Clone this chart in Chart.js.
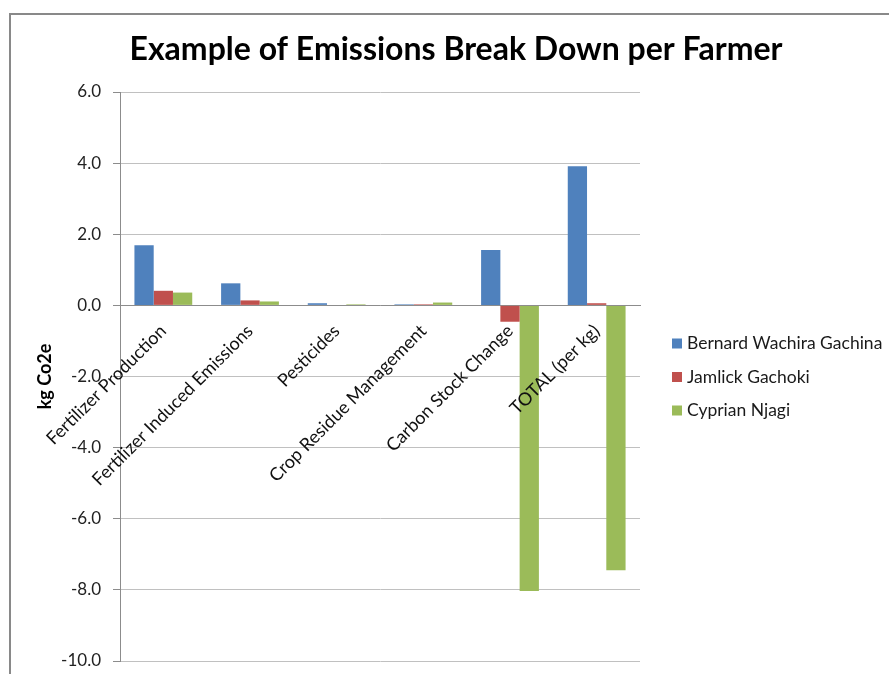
<!DOCTYPE html>
<html>
<head>
<meta charset="utf-8">
<title>Example of Emissions Break Down per Farmer</title>
<script src="https://cdn.jsdelivr.net/npm/chart.js@4/dist/chart.umd.min.js"></script>
<style>
  html, body { margin: 0; padding: 0; background: #ffffff; }
  #wrap { position: relative; width: 889px; height: 674px; }
</style>
</head>
<body>
<div id="wrap"><canvas id="chart" width="889" height="674"></canvas></div>
<script>
// Emission sources per farmer (kg CO2e)
const chartTitle = 'Example of Emissions Break Down per Farmer';
const categories = [
  'Fertilizer Production',
  'Fertilizer Induced Emissions',
  'Pesticides',
  'Crop Residue Management',
  'Carbon Stock Change',
  'TOTAL (per kg)'
];
const bernardWachiraGachina = [1.69, 0.62, 0.06, 0.03, 1.56, 3.91];
const jamlickGachoki        = [0.41, 0.14, 0.00, 0.03, -0.46, 0.06];
const cyprianNjagi          = [0.36, 0.11, 0.03, 0.08, -8.03, -7.45];
const yTicks = [-10, -8, -6, -4, -2, 0, 2, 4, 6];

const FONT = 'Lato, "Liberation Sans", sans-serif';

// Frame, centred title and right-hand legend drawn around the plot area
const decorations = {
  id: 'decorations',
  beforeDraw(chart) {
    const ctx = chart.ctx;
    ctx.save();
    ctx.strokeStyle = '#898989';
    ctx.lineWidth = 2;
    ctx.beginPath();
    ctx.moveTo(10, chart.height);
    ctx.lineTo(10, 14);
    ctx.lineTo(chart.width, 14);
    ctx.stroke();
    ctx.restore();
  },
  afterDraw(chart) {
    const ctx = chart.ctx;
    ctx.save();
    ctx.fillStyle = '#000000';
    ctx.font = 'bold 32px ' + FONT;
    ctx.textAlign = 'center';
    ctx.textBaseline = 'middle';
    ctx.fillText(chartTitle, 456, 50);

    const x0 = chart.chartArea.right + 32;
    const yMid = 377;
    const step = 33.5;
    const sets = chart.data.datasets;
    ctx.font = '17.5px ' + FONT;
    ctx.textAlign = 'left';
    sets.forEach((ds, i) => {
      const y = yMid + (i - (sets.length - 1) / 2) * step;
      ctx.fillStyle = ds.backgroundColor;
      ctx.fillRect(x0, y - 5, 10, 10);
      ctx.fillStyle = '#1a1a1a';
      ctx.fillText(ds.label, x0 + 15, y);
    });
    ctx.restore();
  }
};

new Chart(document.getElementById('chart'), {
  type: 'bar',
  data: {
    labels: categories,
    datasets: [
      { label: 'Bernard Wachira Gachina', data: bernardWachiraGachina, backgroundColor: '#4F81BD' },
      { label: 'Jamlick Gachoki',         data: jamlickGachoki,        backgroundColor: '#C0504D' },
      { label: 'Cyprian Njagi',           data: cyprianNjagi,          backgroundColor: '#9BBB59' }
    ]
  },
  options: {
    responsive: false,
    animation: false,
    layout: { padding: { left: 10, top: 92, right: 249, bottom: 13 } },
    datasets: { bar: { categoryPercentage: 0.667, barPercentage: 1.0, borderWidth: 0 } },
    plugins: {
      legend: { display: false },
      title: { display: false },
      tooltip: { enabled: false }
    },
    scales: {
      x: {
        type: 'category',
        position: { y: 0 },
        grid: { display: false, drawTicks: false },
        border: { display: true, color: '#8c8c8c', width: 1 },
        ticks: {
          z: 1,
          autoSkip: false,
          minRotation: 45,
          maxRotation: 45,
          padding: 15,
          color: '#111111',
          font: { family: FONT, size: 18 }
        }
      },
      y: {
        min: -10,
        max: 6,
        afterFit(scale) {
          scale.width = 110;
          scale.paddingTop = 10;
          scale.paddingBottom = 10;
        },
        afterBuildTicks(scale) { scale.ticks = yTicks.map(v => ({ value: v })); },
        grid: { color: '#c0c0c0', lineWidth: 1, tickLength: 7, tickColor: '#8c8c8c' },
        border: { display: true, color: '#8c8c8c', width: 1 },
        ticks: {
          padding: 12,
          color: '#222222',
          font: { family: FONT, size: 17 },
          callback: v => Number(v).toFixed(1)
        },
        title: {
          display: true,
          text: 'kg Co2e',
          color: '#000000',
          font: { family: FONT, size: 18, weight: 'bold' },
          padding: { top: 24, bottom: 0 }
        }
      }
    }
  },
  plugins: [decorations]
});
</script>
</body>
</html>
